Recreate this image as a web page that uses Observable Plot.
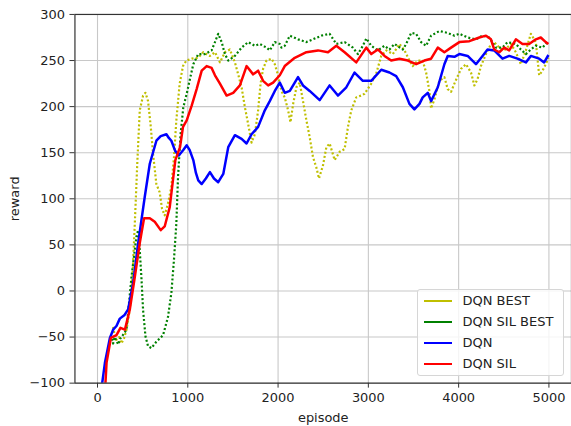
<!DOCTYPE html>
<html><head><meta charset="utf-8">
<script src="https://cdn.jsdelivr.net/npm/d3@7"></script>
<script src="https://cdn.jsdelivr.net/npm/@observablehq/plot@0.6"></script>
<style>
html,body{margin:0;padding:0;background:#fff;overflow:hidden;}
#wrap{position:relative;width:571px;height:426px;overflow:hidden;font-family:"DejaVu Sans",sans-serif;}
#legend{position:absolute;left:417px;top:289px;width:147px;height:87px;border:1px solid #d6d6d6;border-radius:3px;background:rgba(255,255,255,0.8);box-sizing:border-box;}
.sw{position:absolute;left:5.5px;width:28px;height:2px;}
.lb{position:absolute;left:44.5px;font-size:13px;color:#222;line-height:16px;white-space:nowrap;}
</style>
</head><body>
<div id="wrap"><div id="chart"></div><div id="legend"></div></div>
<script>
// tick values
const xTicks = [0, 1000, 2000, 3000, 4000, 5000];
const yTicks = [-100, -50, 0, 50, 100, 150, 200, 250, 300];

// series names and colours
const seriesNames = ["DQN BEST", "DQN SIL BEST", "DQN", "DQN SIL"];
const seriesColors = ["#bfbf00", "#008000", "#0000ff", "#ff0000"];

// DQN BEST  [episode, reward]
const dqnBest = [[173,-39],[190,-48],[210,-53],[240,-50],[265,-57],[295,-51],[321,-42],[358,-20],[387,15],[413,73],[442,142],[468,196],[505,212],[531,215],[560,206],[590,178],[615,149],[652,116],[689,107],[715,89],[744,82],[781,95],[818,113],[847,145],[873,185],[910,225],[947,244],[984,250],[1043,252],[1116,253],[1171,259],[1245,255],[1301,259],[1356,248],[1411,259],[1466,262],[1522,248],[1558,235],[1596,221],[1633,199],[1669,181],[1706,161],[1743,170],[1779,196],[1806,225],[1834,241],[1872,250],[1927,252],[1964,246],[2000,234],[2037,217],[2074,210],[2111,196],[2137,183],[2167,203],[2203,221],[2240,226],[2276,206],[2314,185],[2350,167],[2387,145],[2424,134],[2453,122],[2497,136],[2535,156],[2571,160],[2627,142],[2682,151],[2737,154],[2774,178],[2811,196],[2866,210],[2921,212],[2958,214],[3032,225],[3087,236],[3143,255],[3198,261],[3271,257],[3345,268],[3400,261],[3455,250],[3492,244],[3547,250],[3602,250],[3640,237],[3676,217],[3695,198],[3732,208],[3787,228],[3842,232],[3879,219],[3916,216],[3953,225],[4026,241],[4082,246],[4137,237],[4174,223],[4210,230],[4247,244],[4303,257],[4358,268],[4394,270],[4450,264],[4505,261],[4579,268],[4634,259],[4689,246],[4745,261],[4800,279],[4855,270],[4892,234],[4929,239],[4965,246],[4995,253]];

// DQN SIL BEST
const dqnSilBest = [[160,-52],[173,-57],[190,-50],[210,-54],[230,-58],[250,-52],[280,-48],[321,-42],[376,15],[431,59],[450,66],[468,44],[486,15],[505,-21],[531,-49],[560,-60],[597,-62],[652,-55],[726,-48],[781,-28],[818,-2],[847,34],[873,73],[892,124],[920,170],[950,199],[988,214],[1024,230],[1061,246],[1116,257],[1190,257],[1264,261],[1301,270],[1337,279],[1375,270],[1411,257],[1448,250],[1522,255],[1596,264],[1669,270],[1743,266],[1798,268],[1872,264],[1908,261],[1964,270],[2019,268],[2037,264],[2074,266],[2130,277],[2221,273],[2314,270],[2387,273],[2480,277],[2571,279],[2645,268],[2737,270],[2829,264],[2884,257],[2939,266],[2977,274],[3032,266],[3105,261],[3179,266],[3234,262],[3290,268],[3382,262],[3419,268],[3474,280],[3529,279],[3584,270],[3640,266],[3695,277],[3787,282],[3879,280],[3953,277],[4008,279],[4100,275],[4192,273],[4265,277],[4339,275],[4413,264],[4486,264],[4541,270],[4634,268],[4689,262],[4745,257],[4800,262],[4855,266],[4929,264],[4984,270]];

// DQN
const dqn = [[45,-105],[82,-78],[137,-51],[173,-42],[210,-38],[247,-30],[300,-26],[339,-20],[394,8],[450,52],[523,102],[579,138],[652,163],[700,168],[763,170],[790,166],[818,163],[860,152],[900,147],[950,153],[988,158],[1020,153],[1061,142],[1090,128],[1116,120],[1154,116],[1200,122],[1245,129],[1290,122],[1337,118],[1393,127],[1448,156],[1522,169],[1596,165],[1651,160],[1706,170],[1779,178],[1853,196],[1908,206],[1964,217],[2019,226],[2074,215],[2130,217],[2221,232],[2276,223],[2350,217],[2461,207],[2571,223],[2663,212],[2756,221],[2847,237],[2939,228],[3032,228],[3069,232],[3143,240],[3234,237],[3308,233],[3382,221],[3455,203],[3510,197],[3566,203],[3602,210],[3658,215],[3695,206],[3769,221],[3842,246],[3879,255],[3953,254],[4008,257],[4100,255],[4192,246],[4265,255],[4320,262],[4394,261],[4486,252],[4560,255],[4652,252],[4745,248],[4800,255],[4892,252],[4947,248],[4995,256]];

// DQN SIL
const dqnSil = [[85,-105],[100,-78],[148,-51],[210,-48],[254,-40],[303,-42],[358,-20],[413,15],[468,52],[516,79],[579,79],[634,75],[700,66],[744,70],[800,91],[862,142],[914,156],[947,178],[988,185],[1043,201],[1098,219],[1154,239],[1209,244],[1264,242],[1301,234],[1356,225],[1430,212],[1503,215],[1577,223],[1651,244],[1724,235],[1779,239],[1834,228],[1890,223],[1945,226],[2019,234],[2074,244],[2185,253],[2314,259],[2442,261],[2553,259],[2645,266],[2737,259],[2866,248],[2977,264],[3032,257],[3105,262],[3179,255],[3253,250],[3345,252],[3437,250],[3529,246],[3621,250],[3695,252],[3769,264],[3842,259],[3916,264],[4008,270],[4119,271],[4229,275],[4303,277],[4358,273],[4394,262],[4450,259],[4505,264],[4560,261],[4634,273],[4707,268],[4781,268],[4855,273],[4910,275],[4965,270],[4995,268]];

const seriesData = [dqnBest, dqnSilBest, dqn, dqnSil];
const dotted = [true, true, false, false];

const lineMarks = seriesData.map((s, i) => Plot.line(s, {
  x: d => d[0], y: d => d[1],
  stroke: seriesColors[i],
  strokeWidth: dotted[i] ? 2.2 : 2.5,
  strokeDasharray: dotted[i] ? "2,2.2" : null,
  strokeLinecap: "butt",
  strokeLinejoin: "round",
  clip: true
}));

const chart = Plot.plot({
  width: 573, height: 426,
  marginLeft: 74.7, marginRight: 0, marginTop: 14, marginBottom: 42,
  style: {fontFamily: "DejaVu Sans", fontSize: "13px", color: "#222", background: "#fff"},
  x: {domain: [-250, 5250]},
  y: {domain: [-100, 300]},
  marks: [
    Plot.gridX(xTicks, {stroke: "#c8c8c8", strokeOpacity: 1, strokeWidth: 1.1}),
    Plot.gridY(yTicks, {stroke: "#c8c8c8", strokeOpacity: 1, strokeWidth: 1.1}),
    Plot.axisX(xTicks, {tickSize: 5, tickPadding: 5, label: null, fontSize: 13, tickFormat: d => String(d), stroke: "#333"}),
    Plot.axisY(yTicks, {tickSize: 5, tickPadding: 5, label: null, fontSize: 13, tickFormat: d => d < 0 ? "\u2212" + Math.abs(d) : String(d), stroke: "#333"}),
    ...lineMarks,
    Plot.frame({stroke: "#333", strokeWidth: 1.2}),
    Plot.text(["reward"], {text: d => d, frameAnchor: "left", dx: -60.7, rotate: -90, textAnchor: "middle", lineAnchor: "middle", fontSize: 13, fill: "#222"}),
    Plot.text(["episode"], {text: d => d, frameAnchor: "bottom", dy: 35, textAnchor: "middle", lineAnchor: "middle", fontSize: 13, fill: "#222"})
  ]
});
document.getElementById("chart").appendChild(chart);

// legend
const leg = document.getElementById("legend");
seriesNames.forEach((name, i) => {
  const cy = 300.7 + 21.1 * i - 289 - 1;
  const sw = document.createElement("div");
  sw.className = "sw";
  sw.style.top = (cy - 1) + "px";
  sw.style.background = seriesColors[i];
  leg.appendChild(sw);
  const lb = document.createElement("div");
  lb.className = "lb";
  lb.style.top = (cy - 8) + "px";
  lb.textContent = name;
  leg.appendChild(lb);
});
</script>
</body></html>
